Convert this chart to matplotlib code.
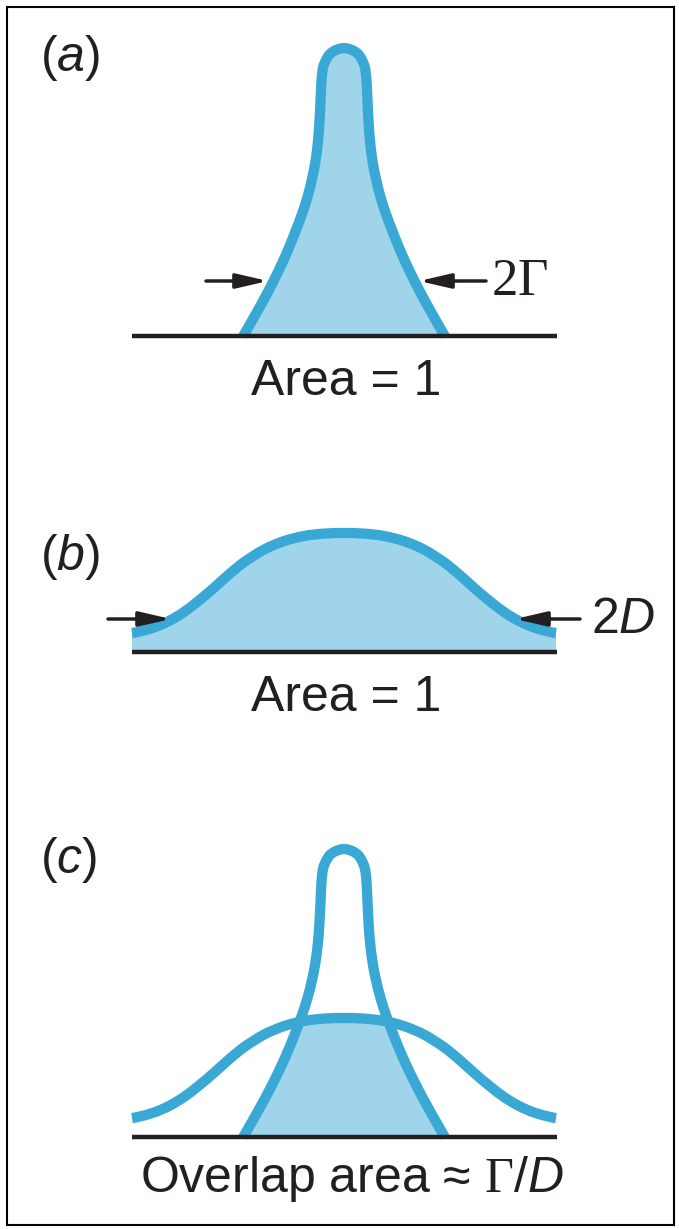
import matplotlib
matplotlib.use("Agg")
import matplotlib.pyplot as plt
from matplotlib.path import Path
from matplotlib.patches import PathPatch, Rectangle

plt.rcParams['font.family'] = ['Liberation Sans', 'DejaVu Sans']
plt.rcParams['mathtext.fontset'] = 'custom'
plt.rcParams['mathtext.rm'] = 'Liberation Serif'
plt.rcParams['mathtext.it'] = 'Liberation Sans:italic'
plt.rcParams['mathtext.bf'] = 'Liberation Sans:bold'

# Half-profiles (offset from line centre, height above baseline), arbitrary units
narrow_offset = [0, 8, 14, 18, 21, 22.5, 23.5, 24.5, 26, 28.5, 32, 36.5, 42, 48,
                 54.8, 61.8, 70, 78.8, 88.2, 95, 100.8]
narrow_height = [288, 286, 282, 276, 268, 255, 235, 215, 195, 175, 157, 139, 122, 106,
                 89, 73, 56, 39, 22, 10, 0]

broad_offset = [0, 20, 40, 60, 80, 100, 115, 130, 145, 160, 175, 190, 205, 212]
broad_height = [119, 118.4, 116, 110.9, 102.4, 89.8, 77.6, 64.2, 51.5, 40, 31, 24.5,
                20.3, 19]

baseline_span = (-212, 213)

panel_labels = ["($a$)", "($b$)", "($c$)"]
area_labels = ["Area = 1", "Area = 1", "Overlap area ≈ $\\Gamma$/$D$"]
width_labels = ["$2\\Gamma$", "2$D$"]

LINE = '#3aa8d4'
FILL = '#a0d4ea'
INK = '#231f20'

W, H = 679, 1229
fig = plt.figure(figsize=(W / 100, H / 100), dpi=100)


def full_profile(offs, hts):
    xs = [-o for o in offs[::-1]] + list(offs[1:])
    ys = list(hts[::-1]) + list(hts[1:])
    return xs, ys


def smooth_verts(xs, ys):
    """Cubic Bezier (Catmull-Rom) path through the given points."""
    P = list(zip(xs, ys))
    n = len(P)
    verts = [P[0]]
    codes = [Path.MOVETO]
    for i in range(n - 1):
        p0 = P[i - 1] if i > 0 else P[i]
        p1, p2 = P[i], P[i + 1]
        p3 = P[i + 2] if i + 2 < n else P[i + 1]
        c1 = (p1[0] + (p2[0] - p0[0]) / 6, p1[1] + (p2[1] - p0[1]) / 6)
        c2 = (p2[0] - (p3[0] - p1[0]) / 6, p2[1] - (p3[1] - p1[1]) / 6)
        verts += [c1, c2, p2]
        codes += [Path.CURVE4] * 3
    return verts, codes


def stroke_path(xs, ys):
    v, c = smooth_verts(xs, ys)
    return Path(v, c)


def area_path(xs, ys):
    v, c = smooth_verts(xs, ys)
    v = v + [(xs[-1], 0), (xs[0], 0), (xs[0], 0)]
    c = c + [Path.LINETO, Path.LINETO, Path.CLOSEPOLY]
    return Path(v, c)


def make_axes(top_px, bottom_px, base_px):
    ax = fig.add_axes([0, 1 - bottom_px / H, 1, (bottom_px - top_px) / H])
    ax.set_xlim(-344, W - 344)
    ax.set_ylim(base_px - bottom_px, base_px - top_px)
    ax.axis('off')
    return ax


def draw_baseline(ax):
    ax.plot(baseline_span, [0, 0], color=INK, lw=3.2, solid_capstyle='butt', zorder=5)


def arrow(ax, tail, tip):
    ax.annotate("", xy=tip, xytext=tail,
                arrowprops=dict(arrowstyle="-|>,head_length=0.95,head_width=0.22",
                                lw=2.5, color=INK, shrinkA=0, shrinkB=0,
                                mutation_scale=20), zorder=6)


def stroke(ax, xs, ys):
    ax.add_patch(PathPatch(stroke_path(xs, ys), facecolor='none', edgecolor=LINE,
                           lw=LW, capstyle='butt', joinstyle='round', zorder=2))


nx, ny = full_profile(narrow_offset, narrow_height)
bx, by = full_profile(broad_offset, broad_height)

LW = 7.4
TXT = 36

# (a) narrow line
ax = make_axes(0, 420, 336)
ax.add_patch(PathPatch(area_path(nx, ny), facecolor=FILL, edgecolor='none', zorder=1))
stroke(ax, nx, ny)
draw_baseline(ax)
arrow(ax, (-138, 55), (-76, 55))
arrow(ax, (142, 55), (75, 55))
ax.text(147, 41, width_labels[0], fontsize=38, color=INK, ha='left', va='baseline')
ax.text(2, -59, area_labels[0], fontsize=TXT, color=INK, ha='center', va='baseline')
ax.text(-304, 265, panel_labels[0], fontsize=TXT, color=INK, ha='left', va='baseline')

# (b) broad line
ax = make_axes(420, 760, 652)
ax.add_patch(PathPatch(area_path(bx, by), facecolor=FILL, edgecolor='none', zorder=1))
stroke(ax, bx, by)
draw_baseline(ax)
arrow(ax, (-236, 33), (-173, 33))
arrow(ax, (236, 33), (171, 33))
ax.text(247, 19, width_labels[1], fontsize=TXT, color=INK, ha='left', va='baseline')
ax.text(2, -59, area_labels[1], fontsize=TXT, color=INK, ha='center', va='baseline')
ax.text(-304, 82, panel_labels[1], fontsize=TXT, color=INK, ha='left', va='baseline')

# (c) overlap of both lines
ax = make_axes(760, 1229, 1137)
overlap = PathPatch(area_path(nx, ny), facecolor=FILL, edgecolor='none', zorder=1)
ax.add_patch(overlap)
overlap.set_clip_path(PathPatch(area_path(bx, by), transform=ax.transData))
stroke(ax, bx, by)
stroke(ax, nx, ny)
draw_baseline(ax)
ax.text(8, -55, area_labels[2], fontsize=TXT, color=INK, ha='center', va='baseline')
ax.text(-304, 264, panel_labels[2], fontsize=TXT, color=INK, ha='left', va='baseline')

# frame around the whole figure
fig.patches.append(Rectangle((7 / W, 1 - 1225 / H), 667 / W, 1218 / H,
                             transform=fig.transFigure, fill=False,
                             edgecolor='black', lw=1.5))

fig.savefig("out.png", dpi=100)
